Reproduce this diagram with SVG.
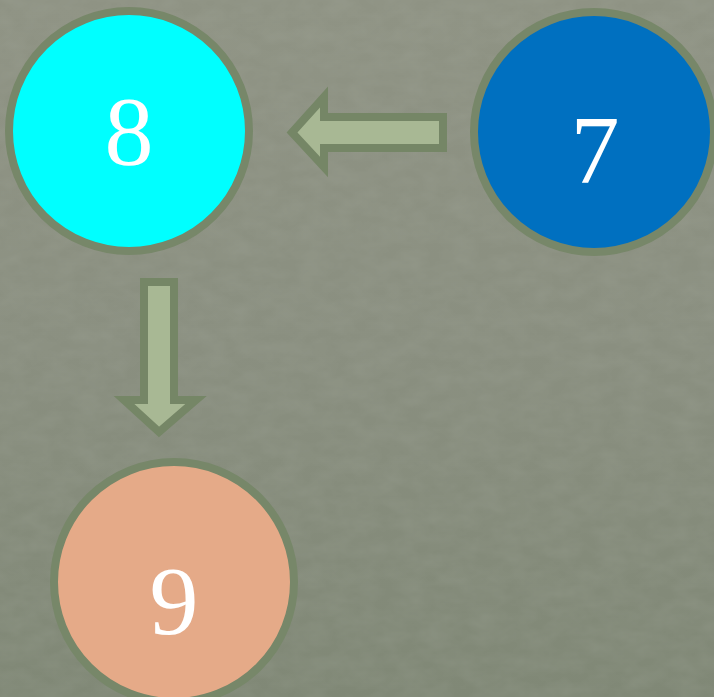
<svg xmlns="http://www.w3.org/2000/svg" width="714" height="697" viewBox="0 0 714 697">
<style>
.node{stroke:#778769;stroke-width:8}
.lbl{font-family:"Liberation Serif","DejaVu Serif",serif;font-size:98px;fill:#ffffff;text-anchor:middle}
.arr{fill:#a8b894;stroke:#758666;stroke-width:8;stroke-linejoin:miter}
</style>
<defs>
<linearGradient id="bg" x1="0" y1="0" x2="0" y2="1">
<stop offset="0" stop-color="#8f9384"/>
<stop offset="0.5" stop-color="#8a8f80"/>
<stop offset="1" stop-color="#808876"/>
</linearGradient>
<filter id="tex" x="0" y="0" width="100%" height="100%">
<feTurbulence type="fractalNoise" baseFrequency="0.04 0.07" numOctaves="3" seed="7" result="n"/>
<feColorMatrix type="matrix" values="0 0 0 0 0.45  0 0 0 0 0.48  0 0 0 0 0.42  0 0 0 0.22 -0.06"/>
</filter>
</defs>
<rect width="714" height="697" fill="url(#bg)"/>
<rect width="714" height="697" filter="url(#tex)"/>
<g id="connectors">
<path class="arr" d="M443,117 L324,117 L324,97 L292,132.5 L324,167 L324,148 L443,148 Z"/>
<path class="arr" d="M144,282 L174,282 L174,400 L196,400 L159,432 L124,400 L144,400 Z"/>
</g>
<g id="node7">
<circle class="node" cx="594" cy="132" r="120" fill="#0070c0"/>
<text class="lbl" x="595" y="183">7</text>
</g>
<g id="node8">
<circle class="node" cx="129" cy="131" r="120" fill="#00ffff"/>
<text class="lbl" x="129" y="164">8</text>
</g>
<g id="node9">
<circle class="node" cx="174" cy="582" r="120" fill="#e5aa88"/>
<text class="lbl" x="174" y="634">9</text>
</g>
</svg>
